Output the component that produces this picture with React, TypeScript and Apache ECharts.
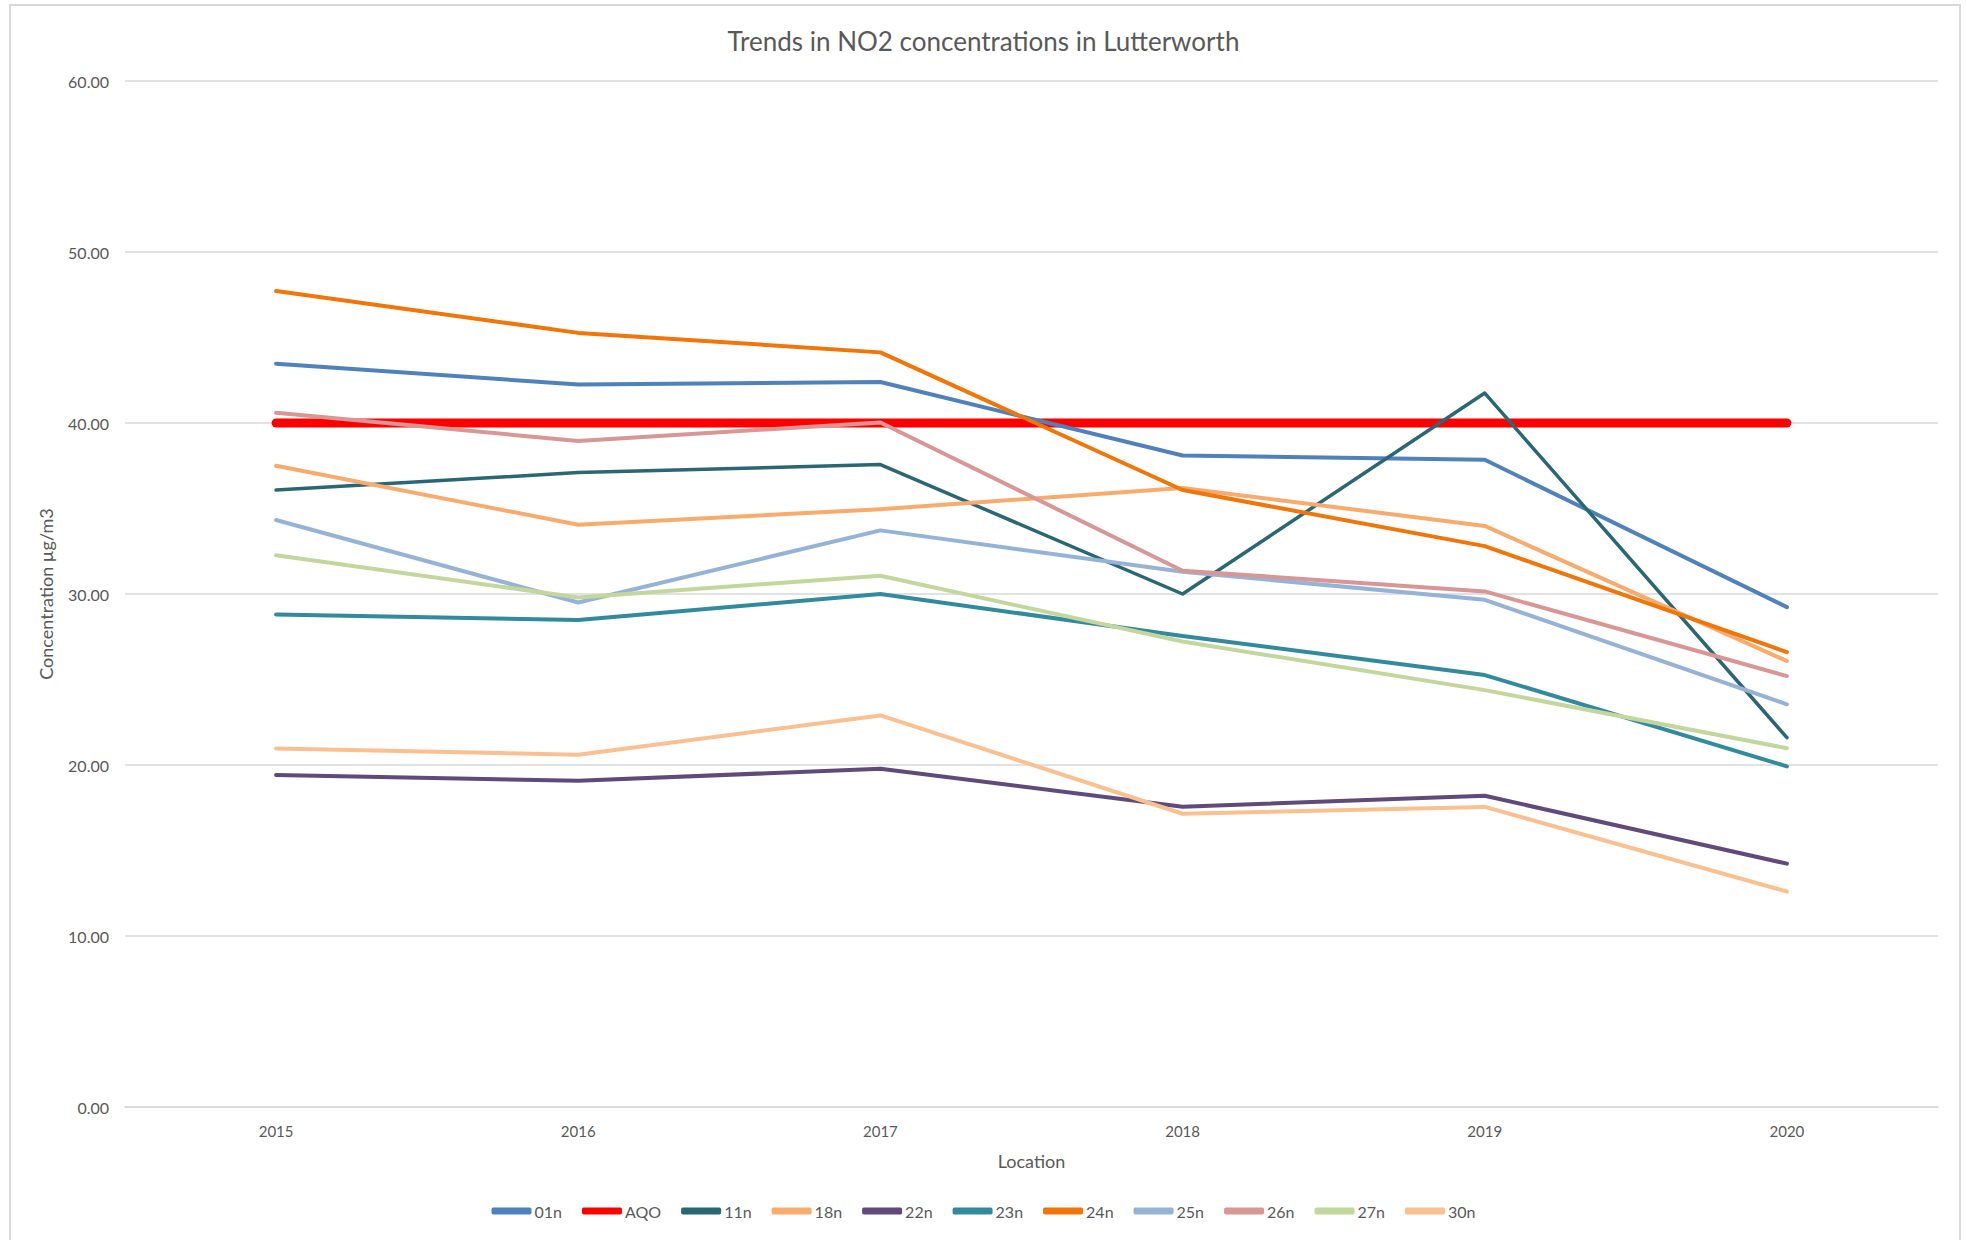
import React, { useEffect, useRef } from "react";
import * as echarts from "echarts";

const years = ["2015", "2016", "2017", "2018", "2019", "2020"];
const seriesNames = ["01n", "AQO", "11n", "18n", "22n", "23n", "24n", "25n", "26n", "27n", "30n"];
const s01n = [43.47, 42.25, 42.4, 38.1, 37.85, 29.23];
const sAQO = [40, 40, 40, 40, 40, 40];
const s11n = [36.08, 37.1, 37.57, 30.0, 41.75, 21.6];
const s18n = [37.5, 34.05, 34.96, 36.2, 33.98, 26.08];
const s22n = [19.42, 19.08, 19.78, 17.56, 18.2, 14.23];
const s23n = [28.8, 28.48, 30.0, 27.54, 25.26, 19.92];
const s24n = [47.72, 45.27, 44.13, 36.08, 32.8, 26.6];
const s25n = [34.33, 29.5, 33.72, 31.3, 29.66, 23.55];
const s26n = [40.6, 38.95, 40.03, 31.36, 30.15, 25.2];
const s27n = [32.26, 29.8, 31.07, 27.22, 24.38, 20.98];
const s30n = [20.97, 20.6, 22.9, 17.15, 17.55, 12.6];
const seriesValues = [s01n, sAQO, s11n, s18n, s22n, s23n, s24n, s25n, s26n, s27n, s30n];
const colors = ["#4F81BD", "#FF0000", "#2A6775", "#F9AB6D", "#604A7B", "#318A9E", "#F27507", "#95B3D7", "#D99694", "#C3D69B", "#FAC090"];
const widths = [4, 9, 3.5, 4, 4, 4, 4, 4, 4, 4, 4];

const FONT = "Lato, 'Open Sans', sans-serif";

export default function App() {
  const ref = useRef<HTMLDivElement>(null);
  useEffect(() => {
    if (!ref.current) return;
    const chart = echarts.init(ref.current, undefined, { renderer: "svg" });
    chart.setOption({
      animation: false,
      backgroundColor: "#ffffff",
      textStyle: { fontFamily: FONT },
      title: {
        text: "Trends in NO2 concentrations in Lutterworth",
        left: "center",
        top: 23,
        textStyle: { fontFamily: FONT, fontSize: 26, fontWeight: "normal", color: "#595959" },
      },
      legend: {
        data: seriesNames,
        bottom: 16,
        left: "center",
        icon: "roundRect",
        itemWidth: 40,
        itemHeight: 7,
        itemGap: 20,
        textStyle: { fontFamily: FONT, fontSize: 16, color: "#595959", padding: [0, 0, 0, -2] },
      },
      grid: { left: 125, right: 29, top: 81, bottom: 133 },
      xAxis: {
        type: "category",
        data: years,
        boundaryGap: true,
        name: "Location",
        nameLocation: "middle",
        nameGap: 45,
        nameTextStyle: { fontFamily: FONT, fontSize: 18, color: "#595959" },
        axisLine: { lineStyle: { color: "#D9D9D9", width: 1.5 } },
        axisTick: { show: false },
        axisLabel: { margin: 16, fontSize: 15, color: "#595959", fontFamily: FONT },
      },
      yAxis: {
        type: "value",
        min: 0,
        max: 60,
        interval: 10,
        name: "Concentration µg/m3",
        nameLocation: "middle",
        nameGap: 70,
        nameRotate: 90,
        nameTextStyle: { fontFamily: FONT, fontSize: 18, color: "#595959" },
        axisLine: { show: false },
        axisTick: { show: false },
        splitLine: { lineStyle: { color: "#D9D9D9", width: 1.5 } },
        axisLabel: {
          margin: 16,
          fontSize: 16,
          color: "#595959",
          fontFamily: FONT,
          formatter: (v: number) => v.toFixed(2),
        },
      },
      series: seriesNames.map((name, i) => ({
        name,
        type: "line",
        data: seriesValues[i],
        symbol: "none",
        color: colors[i],
        lineStyle: { color: colors[i], width: widths[i], cap: "round", join: "round" },
        z: name === "AQO" ? 1 : 2,
      })),
    });
    return () => chart.dispose();
  }, []);
  return (
    <div style={{ position: "fixed", left: 0, top: 0, width: 1967, height: 1240, background: "#fff" }}>
      <div ref={ref} style={{ position: "absolute", left: 0, top: 0, width: 1967, height: 1240 }} />
      <div
        style={{
          position: "absolute",
          left: 9,
          top: 4,
          width: 1952,
          height: 1240,
          border: "2px solid #D9D9D9",
          boxSizing: "border-box",
          pointerEvents: "none",
        }}
      />
    </div>
  );
}
